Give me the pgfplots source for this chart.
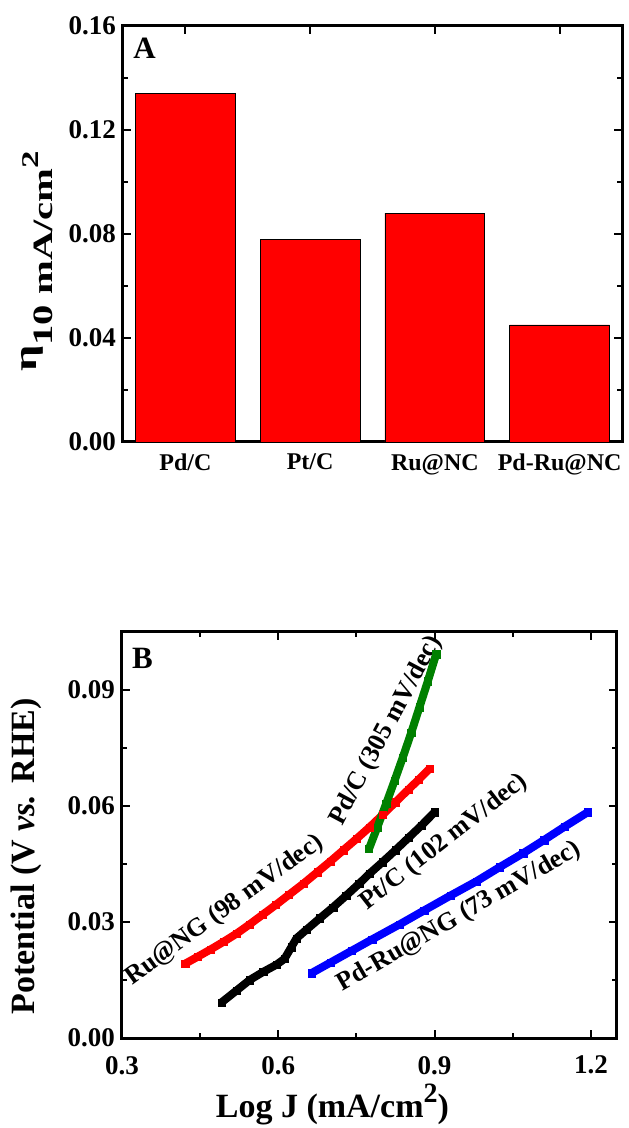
\documentclass[border=0pt]{standalone}
\usepackage{fontspec}
\setmainfont{Liberation Serif}
\usepackage{graphicx}
\usepackage{pgfplots}
\pgfplotsset{compat=1.18}

\pgfplotsset{
  panel/.style={
    scale only axis,
    axis line style={line width=1.5pt},
    every tick/.style={line width=1pt, black},
    major tick length=4pt,
    minor tick length=2.5pt,
    tick align=inside,
    tick pos=both,
    scaled ticks=false,
    /pgf/number format/assume math mode=true,
    ticklabel style={font=\fontsize{13.5}{14}\selectfont\bfseries},
    clip=false,
  },
  slope/.style={line width=4pt, mark=square*, mark size=1.8pt, mark options={line width=0.1pt}},
}

\begin{document}
\begin{tikzpicture}
\path[use as bounding box] (-61pt,-45pt) rectangle (253pt,519pt);

% panel A: overpotential at 10 mA/cm2
\begin{axis}[panel,
  at={(0.5pt,298pt)}, anchor=south west,
  width=249.5pt, height=208pt,
  xmin=-0.5, xmax=3.5,
  xtick={0,1,2,3},
  xticklabels={Pd/C,Pt/C,Ru@NC,Pd-Ru@NC},
  xticklabel style={font=\fontsize{12}{12}\selectfont\bfseries, yshift=-2.5pt},
  ymin=0, ymax=0.16,
  ytick={0,0.04,0.08,0.12,0.16},
  minor y tick num=1,
  yticklabel style={/pgf/number format/.cd, fixed, fixed zerofill, precision=2},
  ylabel={\scalebox{1.45}[1]{\fontsize{16}{16}\selectfont\bfseries η\raisebox{-0.5em}{\fontsize{14}{14}\selectfont 10 mA/cm\raisebox{0.5em}{\fontsize{12}{12}\selectfont 2}}}},
  ylabel style={at={(axis description cs:-0.173,0.434)}, anchor=center},
]
\addplot[ybar, bar width=0.8, fill=red, draw=black, line width=0.4pt]
  coordinates {(0,0.134) (1,0.078) (2,0.088) (3,0.045)};
\node[anchor=north west, font=\fontsize{15.5}{16}\selectfont\bfseries, inner sep=0pt]
  at (axis description cs:0.02,0.971) {A};
\end{axis}

% panel B: Tafel plots
\begin{axis}[panel,
  at={(0pt,0pt)}, anchor=south west,
  width=247.5pt, height=203pt,
  xmin=0.3, xmax=1.25,
  xtick={0.3,0.6,0.9,1.2},
  minor x tick num=1,
  xticklabel style={yshift=-5.5pt, /pgf/number format/.cd, fixed, fixed zerofill, precision=1},
  ymin=0, ymax=0.105,
  ytick={0,0.03,0.06,0.09},
  minor y tick num=1,
  yticklabel style={/pgf/number format/.cd, fixed, fixed zerofill, precision=2},
  xlabel={\fontsize{17}{17}\selectfont\bfseries Log J (mA/cm\raisebox{0.45em}{\fontsize{14}{14}\selectfont 2})},
  xlabel style={at={(axis description cs:0.425,-0.197)}, anchor=base},
  ylabel={\fontsize{17}{17}\selectfont\bfseries Potential (V \textit{vs.} RHE)},
  ylabel style={at={(axis description cs:-0.194,0.447)}, anchor=center},
]
% Ru@NG
\addplot[slope, red] coordinates {
  (0.421,0.0192) (0.445,0.0210) (0.470,0.0229) (0.495,0.0249) (0.520,0.0270)
  (0.545,0.0294) (0.570,0.0319) (0.595,0.0344) (0.620,0.0370) (0.648,0.0399)
  (0.675,0.0429) (0.700,0.0457) (0.725,0.0486) (0.750,0.0515) (0.775,0.0545)
  (0.800,0.0577) (0.825,0.0610) (0.850,0.0643) (0.870,0.0669) (0.890,0.0696)
};
% Pt/C
\addplot[slope, black] coordinates {
  (0.491,0.0092) (0.520,0.0123) (0.545,0.0150) (0.571,0.0171) (0.597,0.0190)
  (0.612,0.0205) (0.625,0.0235) (0.635,0.0258) (0.654,0.0280) (0.680,0.0310)
  (0.705,0.0338) (0.730,0.0368) (0.755,0.0399) (0.775,0.0425) (0.800,0.0455)
  (0.825,0.0486) (0.850,0.0518) (0.875,0.0550) (0.900,0.0584)
};
% Pd/C
\addplot[slope, green!50!black] coordinates {
  (0.774,0.0489) (0.790,0.0545) (0.807,0.0606) (0.823,0.0665) (0.839,0.0726)
  (0.855,0.0789) (0.871,0.0856) (0.887,0.0923) (0.903,0.0993)
};
% Pd-Ru@NG
\addplot[slope, blue] coordinates {
  (0.664,0.0168) (0.700,0.0195) (0.740,0.0225) (0.780,0.0255) (0.833,0.0294)
  (0.880,0.0330) (0.930,0.0368) (0.980,0.0405) (1.025,0.0442) (1.070,0.0478)
  (1.110,0.0512) (1.150,0.0547) (1.194,0.0584)
};
\node[anchor=north west, font=\fontsize{15.5}{16}\selectfont\bfseries, inner sep=0pt]
  at (axis description cs:0.0196,0.96) {B};
\begin{scope}[every node/.style={font=\fontsize{13}{13}\selectfont\bfseries, inner sep=0pt}]
\node[rotate=36] at (axis cs:0.497,0.0330) {Ru@NG (98 mV/dec)};
\node[rotate=62] at (axis cs:0.807,0.0795) {Pd/C (305 mV/dec)};
\node[rotate=38] at (axis cs:0.918,0.0506) {Pt/C (102 mV/dec)};
\node[rotate=30] at (axis cs:0.947,0.0313) {Pd-Ru@NG (73 mV/dec)};
\end{scope}
\end{axis}
\end{tikzpicture}
\end{document}
